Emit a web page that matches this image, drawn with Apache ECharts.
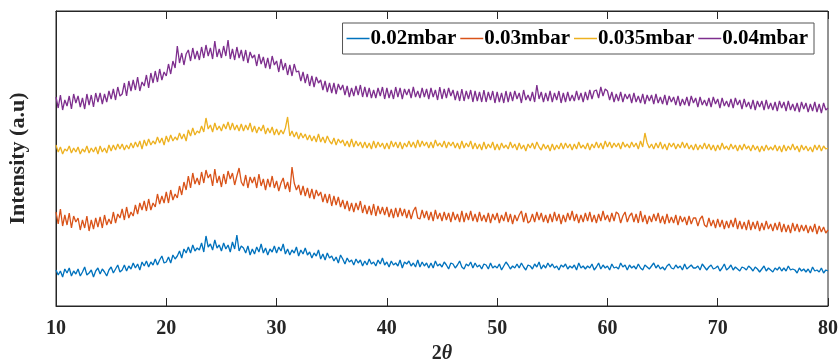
<!DOCTYPE html>
<html>
<head>
<meta charset="utf-8">
<script src="https://cdn.jsdelivr.net/npm/echarts@6/dist/echarts.min.js"></script>
<style>
  html, body { margin: 0; padding: 0; background: #fff; }
  #chart { width: 839px; height: 363px; }
</style>
</head>
<body>
<div id="chart"></div>
<script>
// Diffraction scans, 2θ from 10° to 80° in 0.2° steps (offset stacked intensities, a.u.)
const thetaStart = 10;
const thetaStep = 0.2;
const seriesNames = ['0.02mbar', '0.03mbar', '0.035mbar', '0.04mbar'];
const xTicks = [10, 20, 30, 40, 50, 60, 70, 80];

const p002 = [
  36,31,35,29,37, 33,38,30,35,32, 37,30,34,39,31, 33,36,29,35,38, 32,37,34,30,36,
  39,33,37,41,34, 36,41,35,40,37, 43,38,42,36,44, 40,45,39,44,41, 47,41,46,50,43,
  44,49,43,51,47, 50,55,48,57,53, 59,53,61,55,58, 56,63,54,70,59, 62,56,66,58,61,
  55,63,57,61,54, 64,57,71,55,60, 58,53,60,51,57, 52,59,54,62,53, 58,51,57,54,60,
  53,59,55,62,52, 57,51,56,53,59, 50,56,52,58,51, 54,48,53,50,56, 47,52,46,53,48,
  50,45,49,43,51, 47,42,48,44,46, 41,47,43,46,40, 45,41,47,42,44, 40,46,42,48,41,
  44,39,45,41,43, 40,46,38,44,42, 45,40,43,39,46, 39,44,40,43,38, 43,38,45,40,42,
  39,44,41,37,43, 42,38,41,45,39, 37,42,40,44,38, 43,39,41,37,42, 41,37,43,38,40,
  38,42,36,40,44, 41,37,40,38,42, 38,43,39,36,41, 40,37,42,39,44, 37,41,38,43,39,
  42,38,40,36,41, 39,42,37,40,38, 41,36,43,38,40, 37,40,38,42,36, 39,43,37,41,38,
  40,36,42,38,39, 37,43,39,41,36, 41,38,40,37,42, 38,36,41,39,37, 40,43,38,41,37,
  39,36,40,42,38, 37,41,38,40,36, 42,37,39,41,38, 38,40,36,42,39, 36,39,41,37,38,
  40,35,38,42,36, 38,41,36,39,37, 35,39,38,36,40, 38,35,39,37,34, 37,40,35,38,36,
  34,38,36,39,35, 38,35,40,36,37, 36,33,38,35,37, 34,37,33,39,35, 36,34,38,33,36,
  35
];

const p003 = [
  94,82,97,80,91, 81,93,78,90,84, 88,76,86,78,90, 75,86,77,88,79, 89,78,91,81,87,
  82,94,83,92,88, 97,86,99,88,94, 90,101,92,103,96, 105,95,107,96,103, 99,112,102,110,103,
  114,103,116,106,112, 108,120,111,124,116, 130,118,133,122,128, 121,134,123,136,128, 132,120,137,123,130,
  119,132,122,135,127, 133,121,130,138,124, 120,131,118,129,123, 129,118,132,120,127, 116,127,119,130,118,
  125,115,123,128,117, 124,114,139,123,116, 121,111,120,110,118, 108,117,107,116,110, 114,104,112,103,112,
  100,110,101,109,99, 106,97,105,95,103, 94,103,96,105,93, 101,92,100,91,102, 90,100,92,99,91,
  99,89,97,88,98, 89,98,90,97,88, 96,87,95,99,88, 87,96,88,95,86, 94,85,96,87,93,
  85,94,86,93,84, 94,86,92,84,95, 84,93,86,95,85, 92,84,94,85,91, 84,93,83,92,86,
  93,83,91,85,94, 84,92,82,91,85, 91,95,84,93,83, 85,92,84,94,86, 93,84,91,83,92,
  84,94,85,92,82, 91,84,93,86,95, 85,92,83,91,84, 93,85,94,84,91, 83,92,85,95,86,
  91,84,93,85,94, 92,83,90,94,84, 90,93,84,92,83, 95,84,91,82,90, 84,92,85,93,83,
  90,82,92,83,89, 83,91,81,90,84, 89,81,90,82,88, 88,80,87,90,81, 79,88,80,86,78,
  87,79,86,77,85, 78,86,79,88,77, 85,77,84,76,86, 76,84,77,85,75, 83,76,85,77,82,
  75,83,76,84,74, 82,74,81,73,83, 75,82,74,81,75, 81,73,80,74,82, 72,80,74,79,73,
  76
];

const p0035 = [
  161,154,159,152,157, 155,160,153,158,154, 159,152,157,154,160, 153,158,154,159,152, 160,154,158,153,161,
  155,161,156,162,157, 162,156,161,157,163, 158,164,159,165,157, 166,160,167,161,165, 162,169,163,168,161,
  170,164,171,165,169, 166,173,167,172,165, 176,170,178,171,175, 173,180,174,188,177, 181,174,183,176,180,
  175,182,177,184,176, 183,176,181,175,182, 175,181,176,183,174, 180,173,179,175,181, 172,178,173,179,171,
  177,171,176,172,178, 189,170,175,169,174, 167,173,168,172,166, 171,165,170,164,172, 164,169,163,170,165,
  162,168,161,167,163, 166,160,165,159,167, 159,165,160,164,158, 164,158,163,157,165, 158,164,159,163,157,
  163,157,165,159,164, 158,164,157,163,159, 165,159,164,158,166, 159,165,160,164,158, 164,158,166,160,163,
  159,165,158,164,160, 164,158,163,157,165, 158,163,159,165,157, 163,157,162,156,164, 157,162,158,164,156,
  162,156,163,158,161, 157,164,158,162,156, 163,157,161,155,162, 158,163,157,164,159, 156,162,157,161,155,
  162,156,161,157,163, 157,163,158,162,156, 162,157,164,158,161, 157,163,156,162,158, 164,158,163,157,165,
  159,164,158,163,159, 163,157,164,159,162, 158,164,159,163,157, 165,159,173,163,158, 162,157,163,158,164,
  157,162,156,163,159, 163,157,162,158,164, 158,163,157,161,156, 162,156,161,157,163, 157,162,156,161,155,
  161,156,163,157,160, 156,162,157,161,155, 161,156,162,157,160, 155,161,156,160,154, 160,155,161,156,159,
  156,161,155,160,154, 161,155,160,156,162, 156,160,154,161,156, 160,155,159,154,161, 156,161,155,160,157,
  158
];

const p004 = [
  209,198,211,196,206, 200,210,197,212,203, 210,199,208,197,212, 201,211,199,213,204, 213,202,212,204,215,
  207,217,206,219,210, 212,223,210,225,215, 226,216,229,215,224, 220,231,218,233,223, 235,224,237,226,234,
  230,242,232,245,238, 260,243,253,241,252, 256,245,258,247,255, 246,259,248,261,250, 258,247,265,249,257,
  248,260,250,266,247, 257,246,259,248,256, 245,256,243,254,248, 251,240,252,242,249, 238,248,237,250,241,
  245,234,247,236,243, 231,241,230,242,234, 235,225,234,223,232, 220,230,219,229,223, 226,216,225,214,223,
  213,223,212,222,216, 221,211,220,209,218, 210,220,211,221,209, 219,209,218,208,216, 208,218,210,219,207,
  218,208,216,207,219, 209,218,207,217,211, 217,208,219,209,215, 208,218,209,217,207, 218,209,216,206,219,
  207,217,208,218,210, 216,206,215,205,217, 205,215,207,216,204, 215,205,214,204,216, 204,214,206,215,203,
  214,204,213,203,215, 204,214,205,215,207, 213,203,216,206,211, 205,214,204,221,207, 214,204,213,205,215,
  204,213,206,215,203, 213,204,214,205,211, 205,215,206,213,204, 214,206,216,207,215, 216,208,219,210,217,
  215,206,214,204,212, 205,214,204,212,207, 212,203,213,204,210, 203,212,202,211,205, 211,202,212,203,209,
  202,211,201,210,204, 209,201,210,200,207, 201,209,200,210,203, 208,199,209,201,206, 200,208,199,209,202,
  207,198,208,200,205, 199,207,198,208,201, 206,197,207,199,204, 197,206,196,205,199, 205,196,206,197,203,
  196,204,195,205,198, 204,195,205,196,202, 195,203,194,204,197, 203,194,202,195,204, 194,202,193,203,196,
  198
];

const seriesValues = [p002, p003, p0035, p004];
const seriesColors = ['#0072BD', '#D95319', '#EDB120', '#7E2F8E'];

const toPairs = vals => vals.map((v, i) => [thetaStart + i * thetaStep, v]);

const font = 'Liberation Serif';
const axisColor = '#262626';

const chart = echarts.init(document.getElementById('chart'), null, { renderer: 'canvas' });
chart.setOption({
  animation: false,
  backgroundColor: '#ffffff',
  grid: {
    left: 56, right: 11, top: 11, bottom: 57,
    outerBoundsMode: 'none',
    containLabel: false,
    show: true, borderColor: axisColor, borderWidth: 1, backgroundColor: 'transparent'
  },
  legend: {
    data: seriesNames,
    right: 25, top: 23,
    orient: 'horizontal',
    backgroundColor: '#fff',
    borderColor: '#555',
    borderWidth: 1,
    padding: [5, 6, 5, 4],
    itemGap: 4,
    itemWidth: 23,
    itemHeight: 1.5,
    icon: 'rect',
    textStyle: { fontFamily: font, fontWeight: 'bold', fontSize: 21, color: '#000', padding: [0, 0, 0, -4] }
  },
  xAxis: [{
    type: 'value',
    min: xTicks[0], max: xTicks[xTicks.length - 1], interval: 10,
    position: 'bottom',
    axisLine: { show: true, lineStyle: { color: axisColor, width: 1 } },
    axisTick: { show: true, inside: true, length: 8, lineStyle: { color: axisColor } },
    splitLine: { show: false },
    axisLabel: { fontFamily: font, fontWeight: 'bold', fontSize: 20, color: '#262626', margin: 13 },
    name: '{n|2}{t|θ}',
    nameLocation: 'middle',
    nameGap: 38,
    nameTextStyle: {
      rich: {
        n: { fontFamily: font, fontWeight: 'bold', fontSize: 20, color: '#262626' },
        t: { fontFamily: font, fontWeight: 'bold', fontStyle: 'italic', fontSize: 20, color: '#262626' }
      }
    }
  }, {
    type: 'value',
    min: xTicks[0], max: xTicks[xTicks.length - 1], interval: 10,
    position: 'top',
    axisLine: { show: true, lineStyle: { color: axisColor, width: 1 } },
    axisTick: { show: true, inside: true, length: 8, lineStyle: { color: axisColor } },
    axisLabel: { show: false },
    splitLine: { show: false }
  }],
  yAxis: {
    type: 'value',
    min: 0, max: 295,
    axisLine: { show: true, lineStyle: { color: axisColor, width: 1 } },
    axisTick: { show: false },
    axisLabel: { show: false },
    splitLine: { show: false },
    name: 'Intensity (a.u)',
    nameLocation: 'middle',
    nameGap: 27,
    nameTextStyle: { fontFamily: font, fontWeight: 'bold', fontSize: 22, color: '#262626' }
  },
  series: seriesNames.map((name, k) => ({
    name,
    type: 'line',
    xAxisIndex: 0,
    data: toPairs(seriesValues[k]),
    symbol: 'none',
    color: seriesColors[k],
    lineStyle: { width: 1.3, color: seriesColors[k] },
    z: 2 + k
  }))
});
</script>
</body>
</html>
